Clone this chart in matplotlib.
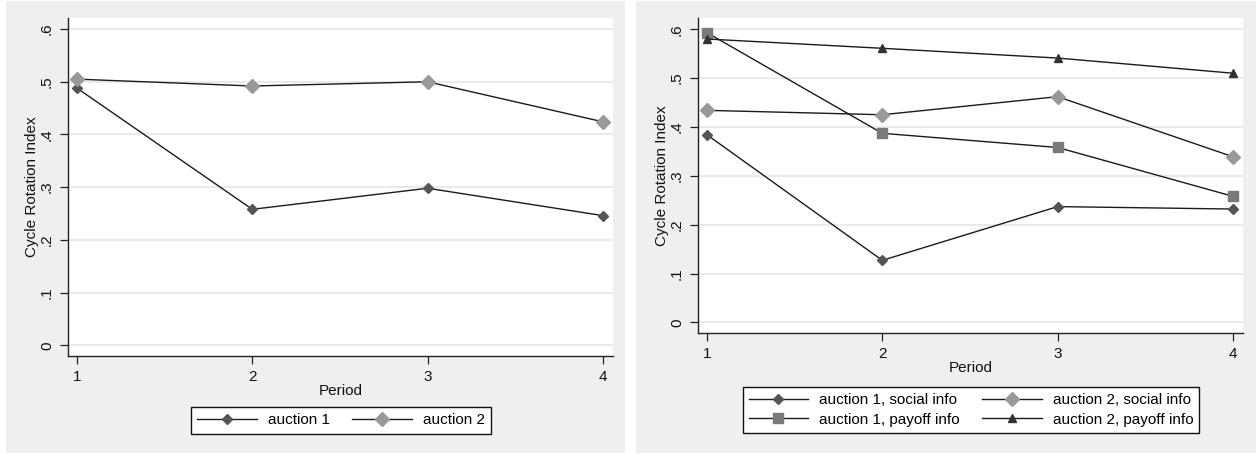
import matplotlib
matplotlib.use("Agg")
import matplotlib.pyplot as plt
from matplotlib.patches import Rectangle

plt.rcParams['font.family'] = ['Liberation Sans', 'DejaVu Sans']

periods = [1, 2, 3, 4]
yticks = [0, 0.1, 0.2, 0.3, 0.4, 0.5, 0.6]
ytick_labels = ["0", ".1", ".2", ".3", ".4", ".5", ".6"]

# left panel
left_auction1 = [0.488, 0.258, 0.298, 0.246]
left_auction2 = [0.505, 0.492, 0.500, 0.424]

# right panel
a1_social = [0.384, 0.127, 0.237, 0.232]
a2_social = [0.434, 0.425, 0.462, 0.339]
a1_payoff = [0.593, 0.387, 0.358, 0.258]
a2_payoff = [0.580, 0.561, 0.541, 0.510]

W, H = 1259, 454
fig = plt.figure(figsize=(W / 100, H / 100), dpi=100, facecolor="white")

bg = "#efefef"
fig.patches.append(Rectangle((6 / W, 1 - 453 / H), (625 - 6) / W, (453 - 1) / H,
                             transform=fig.transFigure, facecolor=bg, edgecolor="none", zorder=-5))
fig.patches.append(Rectangle((636 / W, 1 - 453 / H), (1256 - 636) / W, (453 - 1) / H,
                             transform=fig.transFigure, facecolor=bg, edgecolor="none", zorder=-5))

line_c = "#1a1a1a"
FS = 11


def style_ax(ax, ylim):
    ax.set_facecolor("white")
    ax.set_xlim(0.949, 4.057)
    ax.set_ylim(*ylim)
    ax.set_xticks(periods)
    ax.set_xticklabels([str(p) for p in periods])
    ax.set_yticks(yticks)
    ax.set_yticklabels(ytick_labels, rotation=90, va="center")
    ax.grid(axis="y", color="#e6e6e6", linewidth=1.2)
    ax.set_axisbelow(True)
    for s in ["top", "right"]:
        ax.spines[s].set_visible(False)
    for s in ["left", "bottom"]:
        ax.spines[s].set_color("#222222")
        ax.spines[s].set_linewidth(1.0)
    ax.tick_params(axis="both", direction="out", length=6, width=0.9, color="#222222",
                   labelsize=FS, labelcolor="#111111", pad=4)
    ax.set_xlabel("Period", fontsize=FS, color="#111111", labelpad=0)
    ax.set_ylabel("Cycle Rotation Index", fontsize=FS, color="#111111", labelpad=1)


leg_kw = dict(bbox_transform=fig.transFigure, ncol=2, frameon=True, fancybox=False,
              edgecolor="#111111", facecolor="white", fontsize=FS, handlelength=3.9,
              handletextpad=0.7, columnspacing=1.5, borderpad=0.4, labelspacing=0.35,
              framealpha=1, loc="center")

ax1 = fig.add_axes([68 / W, 1 - 356 / H, (613 - 68) / W, (356 - 18) / H])
style_ax(ax1, (-0.0203, 0.621))
ax1.plot(periods, left_auction1, color=line_c, lw=1.0, marker="D", ms=5,
         mfc="#555555", mec="#555555", label="auction 1")
ax1.plot(periods, left_auction2, color=line_c, lw=1.0, marker="D", ms=7,
         mfc="#999999", mec="#999999", label="auction 2")
ax1.legend(bbox_to_anchor=((190 + 492) / 2 / W, 1 - 420.5 / H), **leg_kw)

ax2 = fig.add_axes([698 / W, 1 - 333 / H, (1243 - 698) / W, (333 - 18) / H])
style_ax(ax2, (-0.0217, 0.623))
ax2.plot(periods, a1_social, color=line_c, lw=1.0, marker="D", ms=5,
         mfc="#555555", mec="#555555", label="auction 1, social info")
ax2.plot(periods, a2_social, color=line_c, lw=1.0, marker="D", ms=7,
         mfc="#999999", mec="#999999", label="auction 2, social info")
ax2.plot(periods, a1_payoff, color=line_c, lw=1.0, marker="s", ms=7,
         mfc="#7a7a7a", mec="#7a7a7a", label="auction 1, payoff info")
ax2.plot(periods, a2_payoff, color=line_c, lw=1.0, marker="^", ms=6,
         mfc="#333333", mec="#333333", label="auction 2, payoff info")
handles, labels = ax2.get_legend_handles_labels()
order = [0, 2, 1, 3]
ax2.legend([handles[i] for i in order], [labels[i] for i in order],
           bbox_to_anchor=((735 + 1207) / 2 / W, 1 - 410 / H), **leg_kw)

fig.savefig("out.png", dpi=100, facecolor="white")
